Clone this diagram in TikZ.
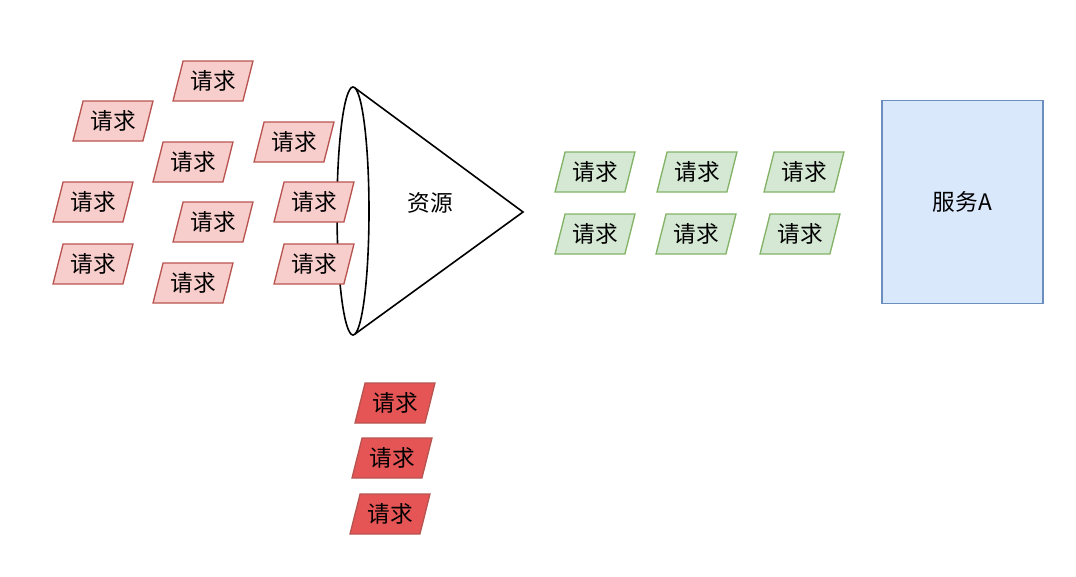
\documentclass[tikz,border=0pt]{standalone}
\usepackage{fontspec}
\setmainfont{Noto Sans CJK SC}
\usepackage{tikz}
\usetikzlibrary{shapes.geometric}
\definecolor{reqfill}{HTML}{F8CECC}
\definecolor{reqline}{HTML}{B85450}
\definecolor{okfill}{HTML}{D5E8D4}
\definecolor{okline}{HTML}{82B366}
\definecolor{dropfill}{HTML}{E55555}
\definecolor{svcfill}{HTML}{DAE8FC}
\definecolor{svcline}{HTML}{6C8EBF}
\tikzset{
  req/.style={trapezium, trapezium left angle=70, trapezium right angle=110,
    trapezium stretches=true, minimum width=60pt, minimum height=30pt,
    inner sep=0pt, draw=reqline, fill=reqfill, line width=1pt, font=\fontsize{17}{19}\selectfont},
  okreq/.style={req, draw=okline, fill=okfill},
  dropreq/.style={req, fill=dropfill}
}

\begin{document}
\begin{tikzpicture}[x=0.75pt,y=-0.75pt]
      \useasboundingbox (0,0) rectangle (1076,576);
      % cone
      \draw[line width=1.2pt,fill=white] (355,88) -- (523,212) -- (355,334);
      \draw[line width=1.2pt,fill=white] (353,211) ellipse (16 and 124);
      \node[font=\fontsize{17}{19}\selectfont] (res) at (430,203) {资源};
      % incoming requests
      \node[req] (req1) at (213,81) {请求};
      \node[req] (req2) at (113,121) {请求};
      \node[req] (req3) at (193,162) {请求};
      \node[req] (req4) at (294,142) {请求};
      \node[req] (req5) at (93,202) {请求};
      \node[req] (req6) at (213,222) {请求};
      \node[req] (req7) at (314,202) {请求};
      \node[req] (req8) at (93,264) {请求};
      \node[req] (req9) at (193,283) {请求};
      \node[req] (req10) at (314,264) {请求};
      % passed requests
      \node[okreq] (ok1) at (595,172) {请求};
      \node[okreq] (ok2) at (697,172) {请求};
      \node[okreq] (ok3) at (804,172) {请求};
      \node[okreq] (ok4) at (595,234) {请求};
      \node[okreq] (ok5) at (696,234) {请求};
      \node[okreq] (ok6) at (800,234) {请求};
      % rejected requests
      \node[dropreq] (drop1) at (395,403) {请求};
      \node[dropreq] (drop2) at (392,458) {请求};
      \node[dropreq] (drop3) at (390,514) {请求};
      % service
      \node[draw=svcline,fill=svcfill,line width=1.2pt,minimum width=120.75pt,minimum height=152.25pt,
        font=\fontsize{17}{19}\selectfont] (svc) at (962.5,202) {服务A};
    \end{tikzpicture}
\end{document}
